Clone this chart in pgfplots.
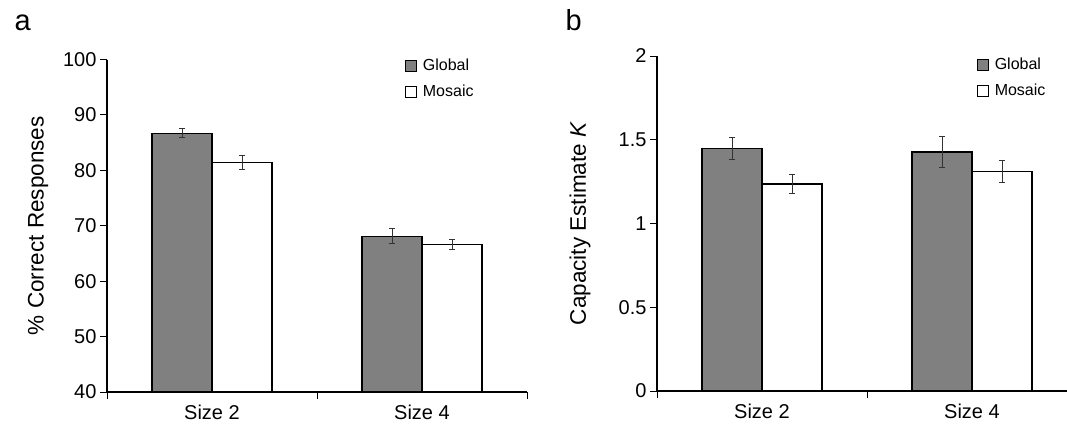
\documentclass[border=0pt]{standalone}
\usepackage{pgfplots}
\pgfplotsset{compat=1.18}
\usepackage{fontspec}
\setmainfont{Liberation Sans}
\definecolor{bargray}{RGB}{128,128,128}
\begin{document}
\begin{tikzpicture}[x=1pt,y=1pt]
\useasboundingbox (0,0) rectangle (1067,432);
\pgfplotsset{
  common/.style={
    scale only axis, width=420pt,
    axis x line*=bottom, axis y line*=left,
    axis line style={line width=1.2pt},
    xmin=-0.5, xmax=1.5,
    xtick={-0.5,0.5,1.5}, xticklabels={},
    extra x ticks={0,1}, extra x tick labels={Size 2,Size 4},
    extra x tick style={major tick length=0pt},
    tick align=outside, major tick length=7pt,
    tick style={black, line width=1pt},
    /pgf/number format/assume math mode=true,
    tick label style={font=\fontsize{20}{24}\selectfont},
    xticklabel style={yshift=-9pt},
    ybar=0pt, bar width=60pt,
    axis on top,
    legend style={draw=none, fill=none, inner sep=0pt, row sep=9pt,
      font=\fontsize{16}{19}\selectfont, legend cell align=left},
    legend image code/.code={\draw[#1,/tikz/.cd,line width=1pt] (0pt,-5.5pt) rectangle (11pt,5.5pt); \path[draw=none,fill=none] (0pt,0pt) -- (15pt,0pt);},
  },
  gbar/.style={draw=black, fill=bargray, line width=1.4pt,
    error bars/.cd, y dir=both, y explicit,
    error bar style={line width=0.9pt, black!80},
    error mark options={rotate=90, mark size=3pt, line width=0.9pt, black!80}},
  mbar/.style={draw=black, fill=white, line width=1.4pt,
    error bars/.cd, y dir=both, y explicit,
    error bar style={line width=0.9pt, black!80},
    error mark options={rotate=90, mark size=3pt, line width=0.9pt, black!80}},
}
% Panel a
\begin{axis}[common, at={(107pt,40pt)}, anchor=south west, height=332.5pt,
  ymin=40, ymax=100, ytick={40,50,...,100},
  ylabel={\% Correct Responses},
  every axis y label/.style={at={(axis description cs:-0.164,0.5)}, rotate=90, anchor=center, font=\fontsize{22.5}{26}\selectfont},
  legend style={at={(rel axis cs:0.71,1.008)}, anchor=north west}]
\addplot[gbar] coordinates {(0,86.7) +- (0,0.8) (1,68.1) +- (0,1.35)};
\addplot[mbar] coordinates {(0,81.4) +- (0,1.3) (1,66.6) +- (0,0.95)};
\legend{Global,Mosaic}
\end{axis}
% Panel b
\begin{axis}[common, at={(657pt,41pt)}, anchor=south west, height=335pt,
  ymin=0, ymax=2, ytick={0,0.5,1,1.5,2},
  ylabel={Capacity Estimate \textit{K}},
  every axis y label/.style={at={(axis description cs:-0.183,0.5)}, rotate=90, anchor=center, font=\fontsize{22.5}{26}\selectfont},
  legend style={at={(rel axis cs:0.762,1.0)}, anchor=north west}]
\addplot[gbar] coordinates {(0,1.448) +- (0,0.068) (1,1.426) +- (0,0.093)};
\addplot[mbar] coordinates {(0,1.237) +- (0,0.056) (1,1.312) +- (0,0.064)};
\legend{Global,Mosaic}
\end{axis}
\node[anchor=base west, font=\fontsize{29}{32}\selectfont] at (11,401) {a};
\node[anchor=base west, font=\fontsize{29}{32}\selectfont] at (562,401) {b};
\end{tikzpicture}
\end{document}
